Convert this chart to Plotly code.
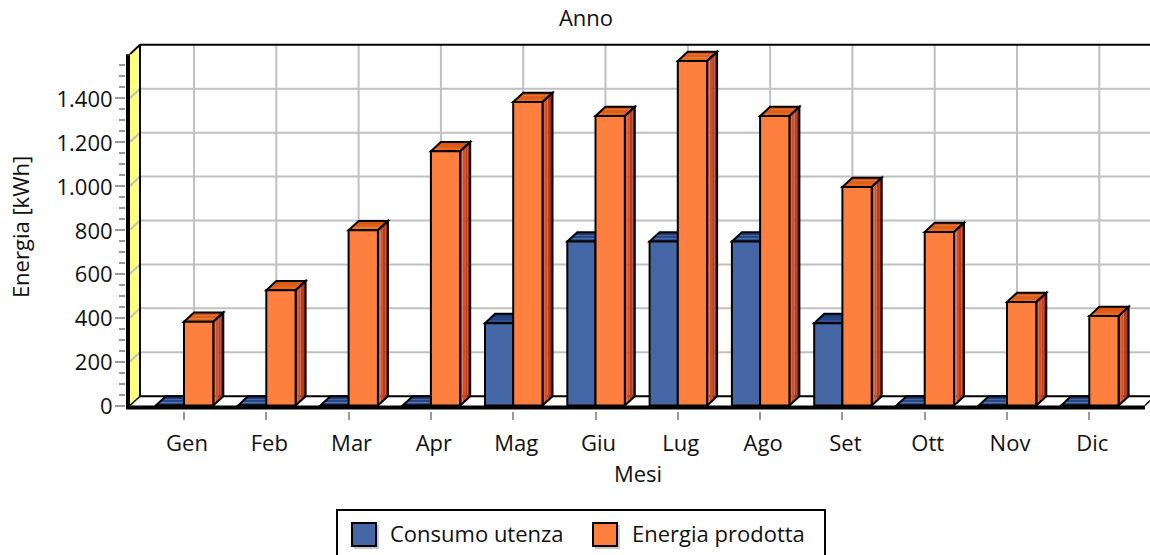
import plotly.graph_objects as go

months = ["Gen", "Feb", "Mar", "Apr", "Mag", "Giu", "Lug", "Ago", "Set", "Ott", "Nov", "Dic"]
consumo = [0, 0, 0, 0, 375, 747, 747, 747, 375, 0, 0, 0]
prodotta = [381, 525, 798, 1158, 1382, 1318, 1569, 1318, 995, 790, 471, 407]
major_ticks = [0, 200, 400, 600, 800, 1000, 1200, 1400]
major_text = ["0", "200", "400", "600", "800", "1.000", "1.200", "1.400"]
minor_ticks = [v for v in range(50, 1600, 50) if v % 200]
name_a = "Consumo utenza"
name_b = "Energia prodotta"

W, H = 1150, 555
LEFT, RIGHT, TOP, BOTTOM = 126, 1150, 43, 411
X0, XSTEP = 184.0, 82.3
Y0, YSCALE = 405.5, 0.2196
DX_PX, DY_PX = 10.0, 9.3
dx = DX_PX / XSTEP
dy = DY_PX / YSCALE
bw = 29.3 / XSTEP
bw_blue = 28.2 / XSTEP
xr = [(LEFT - X0) / XSTEP, (RIGHT - X0) / XSTEP]
yr = [(Y0 - BOTTOM) / YSCALE, (Y0 - TOP) / YSCALE]
x_idx = list(range(len(months)))
FRONT_TOP = 1600
xmax_front = (1145 - X0) / XSTEP
xleft = (130 - X0) / XSTEP

FONT = "Open Sans"
FS = 22
INK = "#111111"
shapes = []


def poly(points, fill=None, line=None, lw=0):
    path = "M " + " L ".join(f"{x:.4f},{y:.4f}" for x, y in points) + " Z"
    shapes.append(dict(type="path", path=path, xref="x", yref="y", layer="between",
                       fillcolor=fill or "rgba(0,0,0,0)",
                       line=dict(color=line or "rgba(0,0,0,0)", width=lw)))


def seg(x0, y0, x1, y1, color, width):
    shapes.append(dict(type="line", x0=x0, y0=y0, x1=x1, y1=y1, xref="x", yref="y", layer="between",
                       line=dict(color=color, width=width)))


# yellow side wall
poly([(xleft, 0), (xleft + dx, dy), (xleft + dx, FRONT_TOP + dy), (xleft, FRONT_TOP)], fill="#ffff80")
# back wall grid
for v in major_ticks[1:]:
    seg(xleft, v, xleft + dx, v + dy, "#c0c0c0", 2)
    seg(xleft + dx, v + dy, xr[1], v + dy, "#c0c0c0", 2)
for i in x_idx:
    seg(i + dx, dy, i + dx, FRONT_TOP + dy, "#c0c0c0", 2)
# floor
poly([(xleft, 0), (xleft + dx, dy), (xr[1] + 1, dy), (xmax_front + 1, 0)], fill="#ffffff")
seg(xleft, 0, xleft + dx, dy, "#000000", 1.5)
seg(xleft + dx, dy, xr[1], dy, "#000000", 2)
seg(xmax_front, 0, xmax_front + dx, dy, "#000000", 1.5)
# frame
seg(xleft + dx, dy, xleft + dx, FRONT_TOP + dy, "#000000", 2)
seg(xleft + dx, FRONT_TOP + dy, xr[1], FRONT_TOP + dy, "#000000", 2)
seg(xleft, FRONT_TOP, xleft + dx, FRONT_TOP + dy, "#000000", 2)
seg(xleft - 2 / XSTEP, -9 / YSCALE / 3, xleft - 2 / XSTEP, FRONT_TOP, "#000000", 4)
seg(xleft - 4 / XSTEP, -2 / YSCALE, xmax_front, -2 / YSCALE, "#000000", 4)


def box3d(x, w, v, top_cols, side_cols):
    # top face, drawn as stripes running front to back
    n = len(top_cols)
    for k, c in enumerate(top_cols):
        a, b = k / n, (k + 1) / n
        poly([(x + dx * a, v + dy * a), (x + w + dx * a, v + dy * a),
              (x + w + dx * b, v + dy * b), (x + dx * b, v + dy * b)], fill=c)
    n = len(side_cols)
    for k, c in enumerate(side_cols):
        a, b = k / n, (k + 1) / n
        poly([(x + w + dx * a, dy * a), (x + w + dx * b, dy * b),
              (x + w + dx * b, v + dy * b), (x + w + dx * a, v + dy * a)], fill=c)
    poly([(x, v), (x + dx, v + dy), (x + w + dx, v + dy), (x + w, v)], line="#000000", lw=2)
    poly([(x + w, 0), (x + w + dx, dy), (x + w + dx, v + dy), (x + w, v)], line="#000000", lw=2)


blue_top = ["#2c5093", "#264785", "#1f3d78"]
blue_side = ["#2c5093", "#1f3d78"]
orange_top = ["#e8691f", "#df5f18", "#d65612"]
orange_side = ["#e2623a", "#ce4f28", "#b83d1c", "#a22c10"]
for i, v in zip(x_idx, consumo):
    box3d(i - bw_blue, bw_blue, v, blue_top, blue_side)
for i, v in zip(x_idx, prodotta):
    box3d(i, bw, v, orange_top, orange_side)

fig = go.Figure()
fig.add_bar(x=x_idx, y=consumo, name=name_a, width=bw_blue, offset=-bw_blue,
            marker=dict(color="#4667a6", line=dict(color="#000000", width=2)))
fig.add_bar(x=x_idx, y=prodotta, name=name_b, width=bw, offset=0,
            marker=dict(color="#ff7f3f", line=dict(color="#000000", width=2)))


def paper_rect(x0, y0, x1, y1, fill, line=None, lw=0):
    shapes.append(dict(type="rect", xref="paper", yref="paper", x0=(x0 - LEFT) / (RIGHT - LEFT),
                       x1=(x1 - LEFT) / (RIGHT - LEFT), y0=(BOTTOM - y0) / (BOTTOM - TOP),
                       y1=(BOTTOM - y1) / (BOTTOM - TOP), layer="above", fillcolor=fill,
                       line=dict(color=line or "rgba(0,0,0,0)", width=lw)))


paper_rect(337, 510, 825, 570, "#ffffff", "#000000", 2)
annots = []
for sx, col, tx, label in [(351, "#4667a6", 390, name_a), (592, "#ff7f3f", 632, name_b)]:
    paper_rect(sx + 3, 525, sx + 28, 549, "#c8c8c8")
    paper_rect(sx + 1, 523, sx + 25, 546, col, "#000000", 2)
    annots.append(dict(text=label, xref="paper", yref="paper", x=(tx - LEFT) / (RIGHT - LEFT),
                       y=(BOTTOM - 533) / (BOTTOM - TOP), xanchor="left", yanchor="middle", xshift=-2,
                       showarrow=False, font=dict(family=FONT, size=FS, color=INK)))

fig.update_layout(
    width=W, height=H, autosize=False, showlegend=False, barmode="overlay",
    margin=dict(l=LEFT, r=W - RIGHT, t=TOP, b=H - BOTTOM, pad=0),
    paper_bgcolor="#ffffff", plot_bgcolor="#ffffff",
    font=dict(family=FONT, size=FS, color=INK),
    title=dict(text="Anno", x=586 / W, xanchor="center", y=1 - 18 / H, yanchor="middle",
               font=dict(family=FONT, size=FS, color=INK)),
    shapes=shapes, annotations=annots,
    xaxis=dict(range=xr, tickmode="array", tickvals=x_idx, ticktext=months, showgrid=False,
               zeroline=False, ticks="outside", ticklen=8, tickwidth=2, tickcolor="#999999",
               ticklabelstandoff=5, ticklabelshift=3,
               title=dict(text="Mesi", standoff=10, font=dict(size=FS))),
    yaxis=dict(range=yr, tickmode="array", tickvals=major_ticks, ticktext=major_text, showgrid=False,
               zeroline=False, ticks="outside", ticklen=10, tickwidth=2, tickcolor="#999999",
               ticklabelstandoff=-2, ticklabelshift=1,
               minor=dict(tickmode="array", tickvals=minor_ticks, ticks="outside", ticklen=6,
                          tickwidth=2, tickcolor="#999999", showgrid=False),
               title=dict(text="Energia [kWh]", standoff=20, font=dict(size=FS))),
)

fig.write_html("out.html", config=dict(displayModeBar=False),
               post_script="document.body.style.margin='0';document.body.style.overflow='hidden';")
